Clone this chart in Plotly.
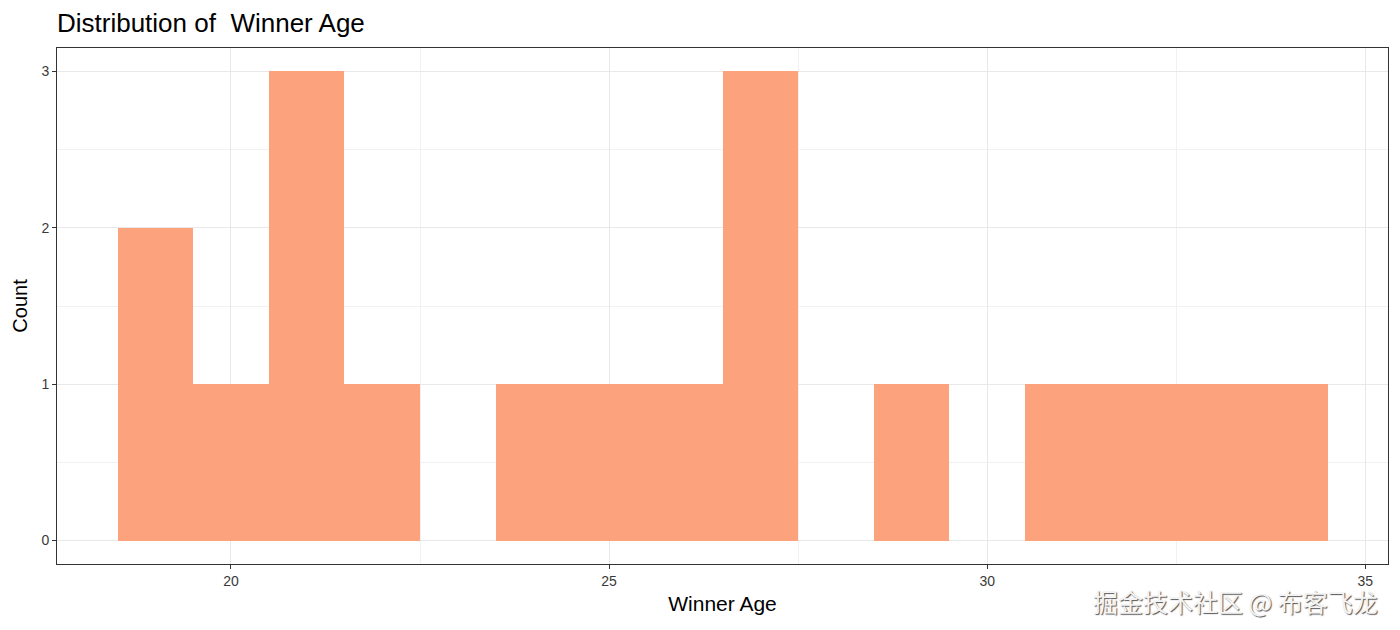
import plotly.graph_objects as go

# histogram bins (winner age, width 1) and counts
age_bins = [19, 20, 21, 22, 23, 24, 25, 26, 27, 28, 29, 30, 31, 32, 33, 34]
counts = [2, 1, 3, 1, 0, 1, 1, 1, 3, 0, 1, 0, 1, 1, 1, 1]

x_ticks = [20, 25, 30, 35]
y_ticks = [0, 1, 2, 3]

fig = go.Figure(go.Bar(
    x=age_bins,
    y=counts,
    width=1,
    marker=dict(color="#FCA27D", line=dict(width=0)),
    hovertemplate="Age %{x}: %{y}<extra></extra>",
))

axis_common = dict(
    showline=True, mirror=True, linecolor="#333333", linewidth=1,
    ticks="outside", ticklen=4, tickcolor="#333333",
    tickfont=dict(family="Liberation Sans, Arial", size=14, color="#3A3A3A"),
    gridcolor="#E8E8E8", gridwidth=1.2, zeroline=False,
)

fig.update_layout(
    width=1384, height=614,
    template="plotly_white",
    plot_bgcolor="white", paper_bgcolor="white",
    showlegend=False,
    bargap=0,
    margin=dict(l=49, r=4, t=40, b=58),
    title=dict(text="Distribution of  Winner Age", x=0.0354, xanchor="left",
               y=0.976, yanchor="middle",
               font=dict(family="Liberation Sans, Arial", size=26, color="black")),
    xaxis=dict(axis_common, range=[17.7, 35.3], tickvals=x_ticks,
               minor=dict(tickvals=[17.5, 22.5, 27.5, 32.5], showgrid=True,
                          gridcolor="#F1F1F1", gridwidth=0.7, ticks=""),
               title=dict(text="Winner Age", standoff=8,
                          font=dict(family="Liberation Sans, Arial", size=21, color="black"))),
    yaxis=dict(axis_common, range=[-0.15, 3.15], tickvals=y_ticks,
               minor=dict(tickvals=[0.5, 1.5, 2.5], showgrid=True,
                          gridcolor="#F1F1F1", gridwidth=0.7, ticks=""),
               title=dict(text="Count", standoff=8,
                          font=dict(family="Liberation Sans, Arial", size=20, color="black"))),
    annotations=[dict(
        text="掘金技术社区 @ 布客飞龙", xref="paper", yref="paper",
        x=0.994, y=-0.033, xanchor="right", yanchor="top", showarrow=False,
        font=dict(family="Noto Sans CJK SC", size=25, color="#F4F4F4",
                  shadow="1px 1px 1px #555555"),
    )],
)

fig.write_html("out.html")
